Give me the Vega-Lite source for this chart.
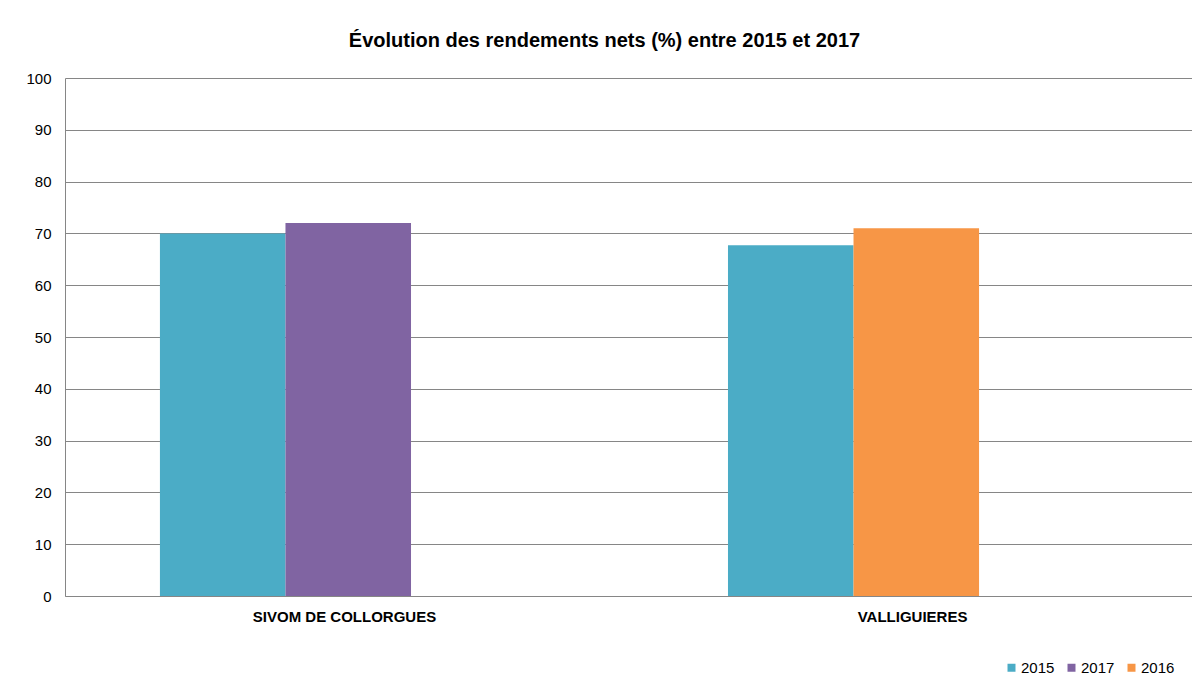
{
  "$schema": "https://vega.github.io/schema/vega-lite/v6.json",
  "autosize": {"type": "none"},
  "width": 1127,
  "height": 518,
  "padding": {"left": 65, "top": 78, "right": 0, "bottom": 87},
  "background": "#ffffff",
  "title": {
    "text": "Évolution des rendements nets (%) entre 2015 et 2017",
    "font": "Liberation Sans",
    "fontSize": 20,
    "fontWeight": "bold",
    "color": "#000000",
    "anchor": "middle",
    "frame": "group",
    "dx": -24,
    "offset": 20
  },
  "data": {
    "values": [
      {"site": "SIVOM DE COLLORGUES", "annee": "2015", "mesure": "début", "rendement": 70},
      {"site": "SIVOM DE COLLORGUES", "annee": "2017", "mesure": "fin", "rendement": 72},
      {"site": "VALLIGUIERES", "annee": "2015", "mesure": "début", "rendement": 67.7},
      {"site": "VALLIGUIERES", "annee": "2016", "mesure": "fin", "rendement": 71}
    ]
  },
  "mark": {"type": "bar"},
  "encoding": {
    "x": {
      "field": "site",
      "type": "nominal",
      "sort": null,
      "scale": {"paddingInner": 0.116, "paddingOuter": 0.05},
      "axis": {
        "title": null,
        "labelAngle": 0,
        "labelFont": "Liberation Sans",
        "labelFontSize": 15,
        "labelFontWeight": "bold",
        "labelColor": "#000000",
        "labelPadding": 13,
        "labelLimit": 0,
        "ticks": false,
        "domainColor": "#868686",
        "domainWidth": 1,
        "grid": false
      }
    },
    "xOffset": {
      "field": "mesure",
      "type": "nominal",
      "scale": {"domain": ["début", "fin"], "paddingInner": 0, "paddingOuter": 1, "align": 0.265}
    },
    "y": {
      "field": "rendement",
      "type": "quantitative",
      "scale": {"domain": [0, 100], "nice": false},
      "axis": {
        "title": null,
        "values": [0, 10, 20, 30, 40, 50, 60, 70, 80, 90, 100],
        "labelFont": "Liberation Sans",
        "labelFontSize": 15,
        "labelColor": "#000000",
        "labelPadding": 14,
        "ticks": false,
        "domainColor": "#868686",
        "gridColor": "#868686",
        "gridWidth": 1,
        "grid": true
      }
    },
    "color": {
      "field": "annee",
      "type": "nominal",
      "scale": {"domain": ["2015", "2017", "2016"], "range": ["#4BACC6", "#8064A2", "#F79646"]},
      "legend": {
        "title": null,
        "orient": "none",
        "direction": "horizontal",
        "legendX": 939,
        "legendY": 582,
        "padding": 0,
        "symbolType": "square",
        "symbolSize": 64,
        "symbolStrokeWidth": 0,
        "labelFont": "Liberation Sans",
        "labelFontSize": 15,
        "labelColor": "#000000",
        "labelOffset": 2,
        "columnPadding": 9
      }
    }
  },
  "config": {
    "view": {"stroke": null},
    "axis": {"gridDash": [], "domainDash": []}
  }
}
